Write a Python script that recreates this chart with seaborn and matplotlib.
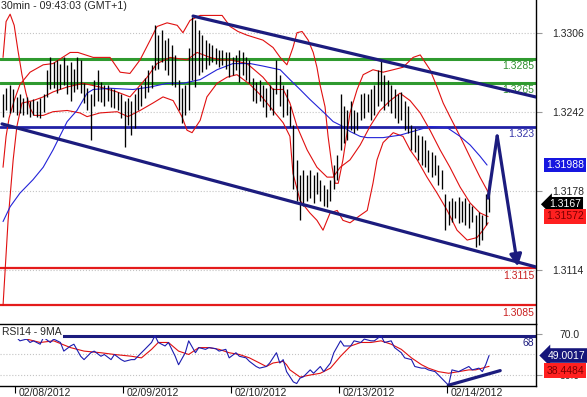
import numpy as np
import pandas as pd
import seaborn as sns
import matplotlib.pyplot as plt
from matplotlib.transforms import blended_transform_factory

sns.set_style("white")
plt.rcParams['font.family'] = ['Liberation Sans', 'DejaVu Sans']

# ---------------------------------------------------------------------------
# Data (30 min bars, x = bar number)
# ---------------------------------------------------------------------------
bar_high = [1.3256, 1.3261, 1.3264, 1.3260, 1.3254, 1.3256, 1.3253, 1.3254, 1.3251, 1.3252,
            1.3251, 1.3253, 1.3256, 1.3276, 1.3286, 1.3282, 1.3284, 1.3281, 1.3286, 1.3280,
            1.3282, 1.3277, 1.3286, 1.3284, 1.3265, 1.3261, 1.3256, 1.3268, 1.3276, 1.3266,
            1.3264, 1.3264, 1.3261, 1.3260, 1.3258, 1.3256, 1.3251, 1.3253, 1.3251, 1.3256,
            1.3261, 1.3264, 1.3269, 1.3276, 1.3280, 1.3312, 1.3304, 1.3308, 1.3300, 1.3302,
            1.3296, 1.3288, 1.3268, 1.3261, 1.3264, 1.3294, 1.3319, 1.3316, 1.3308, 1.3304,
            1.3300, 1.3298, 1.3296, 1.3294, 1.3292, 1.3292, 1.3290, 1.3290, 1.3286, 1.3288,
            1.3292, 1.3290, 1.3286, 1.3284, 1.3269, 1.3266, 1.3268, 1.3264, 1.3261, 1.3264,
            1.3261, 1.3284, 1.3272, 1.3264, 1.3260, 1.3247, 1.3231, 1.3203, 1.3191, 1.3195,
            1.3191, 1.3195, 1.3191, 1.3193, 1.3187, 1.3183, 1.3179, 1.3187, 1.3199, 1.3207,
            1.3256, 1.3247, 1.3243, 1.3251, 1.3243, 1.3242, 1.3256, 1.3257, 1.3256, 1.3260,
            1.3264, 1.3276, 1.3284, 1.3272, 1.3268, 1.3264, 1.3260, 1.3256, 1.3258, 1.3251,
            1.3247, 1.3231, 1.3229, 1.3223, 1.3222, 1.3219, 1.3211, 1.3209, 1.3207, 1.3199,
            1.3195, 1.3175, 1.3170, 1.3172, 1.3170, 1.3173, 1.3170, 1.3172, 1.3168, 1.3166,
            1.3158, 1.3161, 1.3158, 1.3175, 1.3187]
bar_low = [1.3238, 1.3243, 1.3241, 1.3242, 1.3239, 1.3241, 1.3239, 1.3240, 1.3238, 1.3239,
           1.3238, 1.3237, 1.3242, 1.3254, 1.3260, 1.3261, 1.3257, 1.3260, 1.3264, 1.3256,
           1.3251, 1.3258, 1.3260, 1.3257, 1.3249, 1.3243, 1.3219, 1.3247, 1.3251, 1.3250,
           1.3247, 1.3251, 1.3246, 1.3245, 1.3243, 1.3237, 1.3213, 1.3231, 1.3223, 1.3229,
           1.3243, 1.3247, 1.3253, 1.3258, 1.3261, 1.3276, 1.3277, 1.3282, 1.3276, 1.3272,
           1.3264, 1.3262, 1.3243, 1.3233, 1.3239, 1.3243, 1.3268, 1.3262, 1.3272, 1.3274,
           1.3277, 1.3280, 1.3282, 1.3281, 1.3278, 1.3280, 1.3277, 1.3270, 1.3272, 1.3276,
           1.3266, 1.3272, 1.3268, 1.3265, 1.3251, 1.3249, 1.3251, 1.3246, 1.3238, 1.3243,
           1.3239, 1.3256, 1.3247, 1.3238, 1.3239, 1.3230, 1.3179, 1.3170, 1.3154, 1.3166,
           1.3170, 1.3172, 1.3168, 1.3175, 1.3170, 1.3166, 1.3165, 1.3170, 1.3179, 1.3187,
           1.3211, 1.3217, 1.3219, 1.3227, 1.3225, 1.3227, 1.3235, 1.3237, 1.3242, 1.3235,
           1.3239, 1.3247, 1.3251, 1.3243, 1.3247, 1.3241, 1.3237, 1.3233, 1.3235, 1.3227,
           1.3225, 1.3211, 1.3209, 1.3203, 1.3199, 1.3197, 1.3193, 1.3189, 1.3191, 1.3183,
           1.3179, 1.3146, 1.3150, 1.3153, 1.3156, 1.3152, 1.3153, 1.3150, 1.3148, 1.3153,
           1.3132, 1.3134, 1.3138, 1.3150, 1.3161]

# Bollinger bands (red) and moving average (blue), read at these bar positions
upper_t = [0, 0.9, 1.8, 3.3, 5.0, 8.0, 11.9, 14.8, 19.9, 22.2, 26.7, 31.7, 34.7, 37.6, 40.6,
           43.6, 45.6, 48.6, 51.6, 53.3, 55.4, 58.4, 62.2, 64.9, 67.3, 69.6, 72.3, 77.0, 80.0,
           82.1, 84.1, 85.9, 87.1, 88.6, 90.4, 91.9, 93.0, 93.9, 95.4, 96.3, 97.5, 98.4, 99.3,
           100.7, 102.8, 104.9, 106.7, 109.6, 112.6, 115.6, 118.5, 121.5, 123.6, 126.5, 128.6,
           130.4, 132.4, 135.4, 138.4, 141.3, 143.7]
upper_p = [1.3197, 1.3222, 1.3237, 1.3251, 1.3264, 1.3274, 1.3280, 1.3281, 1.3290, 1.3290,
           1.3286, 1.3286, 1.3274, 1.3273, 1.3284, 1.3300, 1.3311, 1.3314, 1.3312, 1.3306,
           1.3316, 1.3320, 1.3320, 1.3320, 1.3311, 1.3307, 1.3304, 1.3300, 1.3294, 1.3286,
           1.3280, 1.3294, 1.3306, 1.3307, 1.3300, 1.3290, 1.3278, 1.3264, 1.3246, 1.3222,
           1.3197, 1.3184, 1.3184, 1.3203, 1.3241, 1.3260, 1.3272, 1.3276, 1.3274, 1.3276,
           1.3278, 1.3286, 1.3288, 1.3276, 1.3262, 1.3249, 1.3238, 1.3222, 1.3205, 1.3189,
           1.3177]
middle_t = [0, 1.5, 3.0, 4.1, 5.6, 8.9, 11.9, 14.8, 19.0, 23.7, 28.7, 33.8, 37.6, 42.7, 45.6,
            49.5, 54.5, 57.5, 61.3, 64.3, 67.3, 72.3, 77.0, 80.0, 83.0, 85.0, 87.1, 90.1, 93.0,
            96.0, 97.8, 99.9, 102.8, 105.8, 108.7, 111.7, 114.7, 117.6, 120.6, 123.6, 126.5,
            129.5, 132.4, 135.4, 138.4, 141.3, 143.7]
middle_p = [1.3085, 1.3154, 1.3203, 1.3230, 1.3249, 1.3251, 1.3254, 1.3258, 1.3262, 1.3265,
            1.3262, 1.3258, 1.3254, 1.3270, 1.3281, 1.3286, 1.3284, 1.3290, 1.3286, 1.3284,
            1.3284, 1.3281, 1.3270, 1.3260, 1.3260, 1.3249, 1.3230, 1.3211, 1.3197, 1.3189,
            1.3189, 1.3197, 1.3203, 1.3215, 1.3230, 1.3243, 1.3251, 1.3257, 1.3251, 1.3241,
            1.3227, 1.3211, 1.3197, 1.3181, 1.3168, 1.3160, 1.3157]
lower_t = [0, 0.9, 2.1, 3.3, 4.4, 5.6, 6.8, 8.0, 9.2, 11.9, 14.8, 19.0, 22.8, 24.9, 28.7, 33.8,
           37.0, 40.6, 44.4, 47.4, 50.4, 53.0, 54.5, 56.0, 58.4, 60.4, 63.4, 66.4, 69.3, 73.2,
           76.1, 79.1, 83.0, 85.0, 85.9, 88.0, 90.9, 93.0, 94.8, 96.9, 99.0, 100.7, 102.8,
           105.8, 107.9, 109.6, 110.8, 112.6, 115.6, 118.5, 120.6, 122.7, 125.6, 128.6, 131.6,
           134.5, 137.5, 140.4, 142.2, 143.7]
lower_p = [1.3286, 1.3315, 1.3321, 1.3312, 1.3292, 1.3272, 1.3257, 1.3245, 1.3239, 1.3239,
           1.3242, 1.3243, 1.3241, 1.3238, 1.3241, 1.3242, 1.3238, 1.3243, 1.3249, 1.3254,
           1.3251, 1.3238, 1.3227, 1.3225, 1.3235, 1.3254, 1.3265, 1.3270, 1.3272, 1.3264,
           1.3256, 1.3246, 1.3233, 1.3222, 1.3192, 1.3170, 1.3160, 1.3154, 1.3146, 1.3160,
           1.3162, 1.3154, 1.3152, 1.3158, 1.3162, 1.3184, 1.3203, 1.3217, 1.3225, 1.3222,
           1.3211, 1.3203, 1.3189, 1.3176, 1.3162, 1.3146, 1.3138, 1.3140, 1.3146, 1.3152]
ma_t = [0, 2.1, 5.0, 8.9, 11.9, 14.8, 19.0, 21.9, 24.9, 26.7, 31.7, 38.5, 43.6, 48.6, 53.3,
        58.4, 63.4, 68.1, 73.2, 77.0, 82.1, 85.0, 88.0, 90.9, 94.8, 97.8, 100.7, 102.8, 105.8,
        107.9, 112.6, 117.6, 122.7, 126.5, 131.6, 135.4, 138.4, 141.3, 143.4]
ma_p = [1.3153, 1.3165, 1.3176, 1.3187, 1.3197, 1.3211, 1.3234, 1.3243, 1.3257, 1.3260,
        1.3261, 1.3260, 1.3262, 1.3265, 1.3265, 1.3268, 1.3276, 1.3281, 1.3281, 1.3279,
        1.3276, 1.3268, 1.3260, 1.3252, 1.3242, 1.3234, 1.3230, 1.3226, 1.3222, 1.3221,
        1.3221, 1.3223, 1.3227, 1.3230, 1.3229, 1.3222, 1.3215, 1.3206, 1.31988]

# drawn trend lines / forecast arrow
chan_up_t, chan_up_p = [56.3, 157.9], [1.33195, 1.32539]
chan_lo_t, chan_lo_p = [-0.3, 157.9], [1.32321, 1.31162]
arrow_t, arrow_p = [143.7, 146.4, 152.5], [1.3172, 1.32223, 1.31165]

green_levels = [1.3285, 1.3265]
blue_levels = [1.323]
red_levels = [1.3115, 1.3085]
level_labels = {1.3285: '1.3285', 1.3265: '1.3265', 1.323: '1.323', 1.3115: '1.3115', 1.3085: '1.3085'}

price_ticks = [1.3306, 1.3242, 1.3178, 1.3114]
last_ma, last_close, last_mid = 1.31988, 1.3167, 1.31572

# RSI(14) and its 9 period MA
rsi_t = [4, 5, 7, 8, 9, 11, 12, 14, 15, 17, 18, 20, 21, 23, 24, 26, 27, 29, 30, 32, 33, 35, 36,
         38, 39, 41, 42, 44, 45, 46, 48, 49, 51, 52, 54, 55, 57, 58, 60, 61, 63, 64, 66, 67, 69,
         70, 72, 73, 75, 76, 78, 79, 81, 82, 83, 84, 86, 87, 88, 89, 91, 92, 94, 95, 97, 98, 100,
         101, 103, 104, 106, 107, 109, 110, 112, 113, 115, 116, 118, 119, 121, 122, 124, 125,
         126, 128, 129, 131, 132, 133, 135, 136, 138, 139, 141, 142, 143, 144]
rsi_v = [66.7, 63.3, 65, 61.7, 63.3, 60, 66.7, 61.7, 65, 61.7, 53.3, 58.3, 60, 48.3, 45, 51.7,
         53.3, 48.3, 50, 45, 50, 45, 43.3, 45, 45, 51.7, 55, 61.7, 68.3, 61.7, 58.3, 61.7, 48.3,
         40, 51.7, 63.3, 51.7, 56.7, 55, 56.7, 55.7, 53.3, 55, 46.7, 51.7, 48.3, 46.7, 43.3,
         38.3, 36.7, 38.3, 41.7, 51.7, 41.7, 45, 33.3, 23.3, 21.7, 27, 28.3, 35, 31.7, 38.3,
         33.3, 41.7, 51.7, 63.3, 58.3, 58.3, 63.3, 61.7, 65, 63.3, 63.3, 68.3, 61.7, 63.3, 56.7,
         51.7, 46.7, 45, 38.3, 36.7, 36.7, 35, 33.3, 30, 23.3, 20, 35, 33.3, 35, 38.3, 35, 36.7,
         33.3, 40, 49.0]
rma_t = [7, 11, 15, 20, 24, 29, 33, 38, 41, 44, 46, 49, 52, 55, 58, 61, 64, 67, 70, 73, 76, 78,
         80, 83, 84, 85, 88, 91, 94, 97, 100, 103, 106, 109, 112, 115, 118, 121, 124, 126, 129,
         132, 135, 138, 140, 142, 144]
rma_v = [65, 61.7, 63.3, 56.7, 53.3, 51.7, 50, 48.3, 46.7, 55, 61.7, 61.7, 53.3, 50, 56.7, 56.7,
         55, 51.7, 50, 46.7, 41.7, 38.3, 41.7, 43.3, 40, 35, 28, 30, 31.7, 36.7, 48.3, 58.3,
         61.7, 61.7, 63.3, 60, 55, 46.7, 40, 36.7, 33.3, 31.7, 33.3, 35, 35, 36.7, 38.45]
rsi_trend_t, rsi_trend_v = [131.9, 147.3], [20, 34.3]
rsi_level = 68
last_rsi, last_rsi_ma = 49.0017, 38.4484

day_labels = ['02/08/2012', '02/09/2012', '02/10/2012', '02/13/2012', '02/14/2012']
day_start = [3.5, 35.5, 67.5, 99.5, 131.5]

bars = pd.DataFrame({'bar': np.arange(len(bar_high)), 'high': bar_high, 'low': bar_low})

NAVY = '#1c1c7e'
RED = '#e41b1b'
GREEN = '#2f9a2f'
XLIM = (-0.9, 157.9)

# =============================================================================
# Figure layout: price panel on top, RSI panel underneath
# =============================================================================
fig = plt.figure(figsize=(5.87, 3.97), dpi=100)
ax = fig.add_axes([0, 73 / 397, 536 / 587, 324 / 397])
ax2 = fig.add_axes([0, 11 / 397, 536 / 587, 62 / 397])

# ---- price panel ----
for lv in green_levels:
    ax.axhline(lv, color=GREEN, lw=2.2, zorder=2)
for lv in blue_levels:
    ax.axhline(lv, color='#2121a6', lw=2.0, zorder=2)
for lv in red_levels:
    ax.axhline(lv, color=RED, lw=1.6, zorder=2)

for t, p in [(upper_t, upper_p), (middle_t, middle_p), (lower_t, lower_p)]:
    sns.lineplot(x=t, y=p, ax=ax, color='#e01010', linewidth=0.8, sort=False, zorder=3)
sns.lineplot(x=ma_t, y=ma_p, ax=ax, color='#2323d8', linewidth=0.8, sort=False, zorder=3)

ax.vlines(bars['bar'], bars['low'], bars['high'], color='black', lw=0.95, zorder=4)

sns.lineplot(x=chan_up_t, y=chan_up_p, ax=ax, color=NAVY, linewidth=2.3, sort=False, zorder=5)
sns.lineplot(x=chan_lo_t, y=chan_lo_p, ax=ax, color=NAVY, linewidth=2.3, sort=False, zorder=5)
sns.lineplot(x=arrow_t[:2], y=arrow_p[:2], ax=ax, color=NAVY, linewidth=2.3, sort=False, zorder=5)
ax.annotate('', xy=(arrow_t[2], arrow_p[2]), xytext=(arrow_t[1], arrow_p[1]),
            arrowprops=dict(arrowstyle='-|>,head_length=0.7,head_width=0.35',
                            color=NAVY, lw=2.3, shrinkA=0, shrinkB=0), zorder=5)

ax.set_xlim(*XLIM)
ax.set_ylim(1.3070, 1.33325)
ax.set_xticks([])
ax.yaxis.tick_right()
ax.set_yticks(price_ticks)
ax.set_yticklabels([f'{v:.4f}' for v in price_ticks])
ax.tick_params(axis='y', right=True, left=False, length=4, width=0.8, color='#999999',
               pad=8, labelsize=7.5, direction='out')
ax.grid(axis='y', ls=':', color='#c4c4c4', lw=0.8)
ax.grid(axis='x', visible=False)
ax.set_xlabel('')
ax.set_ylabel('')
for side in ['top', 'left', 'bottom']:
    ax.spines[side].set_visible(False)
ax.spines['right'].set_color('black')
ax.spines['right'].set_linewidth(1)

ax.text(0.002, 0.997, '30min - 09:43:03 (GMT+1)', transform=ax.transAxes,
        ha='left', va='top', fontsize=7.7, zorder=6)

tr = blended_transform_factory(ax.transAxes, ax.transData)
for lv, col in [(1.3285, '#2f8f2f'), (1.3265, '#2f8f2f'), (1.323, '#3434a8'),
                (1.3115, '#c81e1e'), (1.3085, '#c81e1e')]:
    ax.annotate(level_labels[lv], xy=(0.997, lv), xycoords=tr, xytext=(0, -1.5),
                textcoords='offset points', ha='right', va='top', fontsize=7.5, color=col)

ax.text(1.019, last_ma, f'{last_ma:.5f}', transform=tr, ha='left', va='center', fontsize=7.5,
        color='white', clip_on=False,
        bbox=dict(boxstyle='square,pad=0.22', fc='#1616e0', ec='none'))
ax.text(1.024, last_close, f'{last_close:.4f}', transform=tr, ha='left', va='center',
        fontsize=7.5, color='white', clip_on=False,
        bbox=dict(boxstyle='larrow,pad=0.22', fc='black', ec='none'))
ax.text(1.019, last_mid, f'{last_mid:.5f}', transform=tr, ha='left', va='center',
        fontsize=7.5, color='#7a0000', clip_on=False,
        bbox=dict(boxstyle='square,pad=0.22', fc='#ff2020', ec='none'))

# ---- RSI panel ----
ax2.axhline(50, ls=':', color='#c4c4c4', lw=0.8)
ax2.axhline(30, ls=':', color='#c4c4c4', lw=0.8)
ax2.axhline(rsi_level, color=NAVY, lw=2.2)
sns.lineplot(x=rma_t, y=rma_v, ax=ax2, color='#e01010', linewidth=0.8, sort=False)
sns.lineplot(x=rsi_t, y=rsi_v, ax=ax2, color='#1c1cb0', linewidth=0.8, sort=False)
sns.lineplot(x=rsi_trend_t, y=rsi_trend_v, ax=ax2, color=NAVY, linewidth=2.3, sort=False)

ax2.set_xlim(*XLIM)
ax2.set_ylim(19.3, 79.7)
ax2.yaxis.tick_right()
ax2.set_yticks([70, 30])
ax2.set_yticklabels(['70.0', '30.0'])
ax2.tick_params(axis='y', right=True, left=False, length=4, width=0.8, color='#999999',
                pad=13, labelsize=7.5, direction='out')
ax2.set_xticks(day_start)
ax2.tick_params(axis='x', bottom=True, length=5, width=0.8, color='black',
                labelbottom=False, direction='out')
ax2.set_xlabel('')
ax2.set_ylabel('')
ax2.spines['left'].set_visible(False)
for side in ['top', 'bottom', 'right']:
    ax2.spines[side].set_color('black')
    ax2.spines[side].set_linewidth(1)

ax2.text(0.003, 0.95, 'RSI14 - 9MA', transform=ax2.transAxes, ha='left', va='top',
         fontsize=7.5, zorder=6, bbox=dict(boxstyle='square,pad=0.15', fc='white', ec='none'))
tr2 = blended_transform_factory(ax2.transAxes, ax2.transData)
ax2.annotate(str(rsi_level), xy=(0.997, rsi_level), xycoords=tr2, xytext=(0, -1.5),
             textcoords='offset points', ha='right', va='top', fontsize=7.5, color=NAVY)
ax2.text(1.021, last_rsi, f'{last_rsi:.4f}', transform=tr2, ha='left', va='center',
         fontsize=7.5, color='white', clip_on=False, zorder=7,
         bbox=dict(boxstyle='larrow,pad=0.22', fc='#15157a', ec='none'))
ax2.annotate(f'{last_rsi_ma:.4f}', xy=(1.019, last_rsi_ma), xycoords=tr2, xytext=(0, -3),
             textcoords='offset points', ha='left', va='center', fontsize=7.5,
             color='#7a0000', annotation_clip=False, zorder=7,
             bbox=dict(boxstyle='square,pad=0.22', fc='#ff2020', ec='none'))

trx = blended_transform_factory(ax2.transData, ax2.transAxes)
for d, lab in zip(day_start, day_labels):
    ax2.annotate(lab, xy=(d, 0), xycoords=trx, xytext=(2.5, -1.5), textcoords='offset points',
                 ha='left', va='top', fontsize=7.5, annotation_clip=False)

fig.savefig('out.png', dpi=100)
